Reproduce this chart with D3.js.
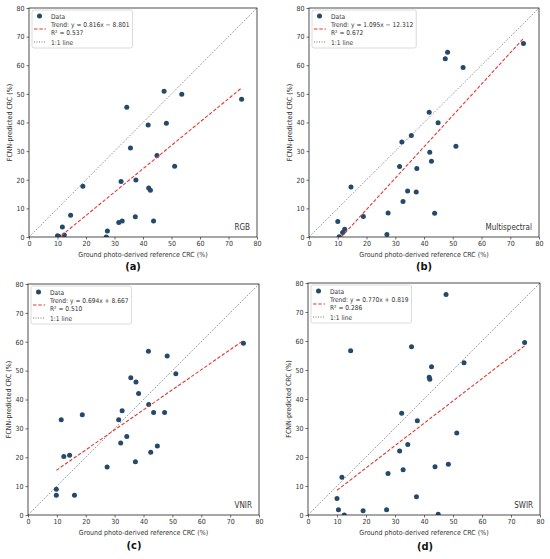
<!DOCTYPE html>
<html>
<head>
<meta charset="utf-8">
<script src="https://cdn.jsdelivr.net/npm/d3@7"></script>
<style>
  body { margin: 0; background: #fff; }
  svg { display: block; }
  text { font-family: "DejaVu Sans Condensed", "Liberation Sans", sans-serif; fill: #333; }
</style>
</head>
<body>
<svg id="chart" width="550" height="559"></svg>
<script>
// ground photo-derived reference CRC (%) and FCNN predictions per sensor
const rgbX = [10.0, 10.5, 11.7, 12.4, 14.6, 18.9, 27.1, 27.5, 31.5, 32.3, 32.7, 34.3, 35.6, 37.3, 37.5, 41.8, 42.0, 42.6, 43.7, 44.9, 47.4, 48.2, 51.1, 53.6, 74.6];
const rgbY = [0.4, 0.2, 3.5, 0.7, 7.6, 17.7, 0.0, 2.1, 5.1, 19.4, 5.6, 45.3, 31.1, 7.1, 19.9, 39.1, 17.1, 16.3, 5.6, 28.5, 50.9, 39.7, 24.7, 49.9, 48.1];

const msX = [10.0, 10.5, 11.7, 12.4, 14.6, 18.9, 27.1, 27.5, 31.5, 32.3, 32.7, 34.3, 35.6, 37.3, 37.5, 41.8, 42.0, 42.6, 43.7, 44.9, 47.4, 48.2, 51.1, 53.6, 74.6];
const msY = [5.4, 0.1, 1.6, 2.7, 17.5, 7.2, 0.9, 8.4, 24.6, 33.2, 12.4, 16.1, 35.5, 15.7, 23.9, 43.6, 29.6, 26.5, 8.3, 39.9, 62.3, 64.5, 31.7, 59.2, 67.6];

const vnirX = [9.8, 9.8, 11.5, 12.4, 14.4, 16.1, 18.8, 27.4, 31.4, 32.1, 32.6, 34.2, 35.6, 37.2, 37.4, 38.3, 41.7, 41.8, 42.5, 43.5, 44.8, 47.3, 48.2, 51.2, 74.6];
const vnirY = [8.9, 6.8, 33.0, 20.3, 20.7, 6.8, 34.7, 16.6, 33.0, 24.9, 36.1, 27.2, 47.5, 18.4, 46.1, 42.1, 56.7, 38.3, 21.7, 35.5, 23.9, 35.5, 55.1, 48.9, 59.5];

const swirX = [10.0, 10.5, 11.7, 12.5, 14.7, 19.0, 27.1, 27.6, 31.6, 32.3, 32.8, 34.4, 35.7, 37.4, 37.7, 41.8, 42.0, 42.6, 43.8, 44.9, 47.6, 48.4, 51.3, 53.8, 74.7];
const swirY = [5.7, 1.8, 13.0, 0.0, 56.6, 1.5, 1.8, 14.3, 22.1, 35.1, 15.6, 24.3, 58.0, 6.3, 32.5, 47.5, 46.8, 51.1, 16.6, 0.3, 76.0, 17.5, 28.3, 52.5, 59.5];

const panelNames = ["RGB", "Multispectral", "VNIR", "SWIR"];
const captions = ["(a)", "(b)", "(c)", "(d)"];
const slopes = [0.816, 1.095, 0.694, 0.770];
const intercepts = [-8.801, -12.312, 8.667, 0.819];
const r2s = ["0.537", "0.672", "0.510", "0.286"];
const ticks = [0, 10, 20, 30, 40, 50, 60, 70, 80];

const seriesX = [rgbX, msX, vnirX, swirX];
const seriesY = [rgbY, msY, vnirY, swirY];

// plot area of each panel in page pixels
const boxes = [
  { left: 29, top: 8, w: 228, h: 229, cap: 133, capY: 270 },
  { left: 309, top: 8, w: 230, h: 229, cap: 424, capY: 270 },
  { left: 28, top: 284, w: 231, h: 231, cap: 134, capY: 549 },
  { left: 308, top: 283, w: 232, h: 232, cap: 425, capY: 550 }
];

const dotColor = "#24496b";
const trendColor = "#e03b35";
const fs = 7;

const svg = d3.select("#chart");

function fmt(v) {
  return (v < 0 ? " \u2212 " : " + ") + Math.abs(v).toFixed(3);
}

panelNames.forEach((name, p) => {
  const b = boxes[p];
  const xs = seriesX[p], ys = seriesY[p];

  const x = d3.scaleLinear().domain([0, 80]).range([0, b.w]);
  const y = d3.scaleLinear().domain([0, 80]).range([b.h, 0]);

  const g = svg.append("g").attr("transform", `translate(${b.left},${b.top})`);

  const clipId = "clip" + p;
  g.append("clipPath").attr("id", clipId)
    .append("rect").attr("width", b.w).attr("height", b.h);

  const plot = g.append("g").attr("clip-path", `url(#${clipId})`);

  // 1:1 line
  plot.append("line")
    .attr("x1", x(0)).attr("y1", y(0))
    .attr("x2", x(80)).attr("y2", y(80))
    .attr("stroke", "#555").attr("stroke-width", 0.8)
    .attr("stroke-dasharray", "1,1.5");

  // points
  plot.selectAll("circle")
    .data(xs.map((v, i) => [v, ys[i]]))
    .enter()
    .append("circle")
    .attr("cx", d => x(d[0]))
    .attr("cy", d => y(d[1]))
    .attr("r", 2.5)
    .attr("fill", dotColor);

  // trend line over data range
  const x0 = d3.min(xs), x1 = d3.max(xs);
  plot.append("line")
    .attr("x1", x(x0)).attr("y1", y(slopes[p] * x0 + intercepts[p]))
    .attr("x2", x(x1)).attr("y2", y(slopes[p] * x1 + intercepts[p]))
    .attr("stroke", trendColor).attr("stroke-width", 1.1)
    .attr("stroke-dasharray", "3.5,1.8");

  // axes
  const xAxis = g.append("g")
    .attr("transform", `translate(0,${b.h})`)
    .call(d3.axisBottom(x).tickValues(ticks).tickSize(2.5).tickPadding(2));
  const yAxis = g.append("g")
    .call(d3.axisLeft(y).tickValues(ticks).tickSize(2.5).tickPadding(2));
  [xAxis, yAxis].forEach(a => {
    a.select(".domain").remove();
    a.selectAll("line").attr("stroke", "#333").attr("stroke-width", 0.7);
    a.selectAll("text").attr("font-size", fs).style("fill", "#333")
      .attr("font-family", null);
  });

  // frame
  g.append("rect")
    .attr("width", b.w).attr("height", b.h)
    .attr("fill", "none").attr("stroke", "#222").attr("stroke-width", 0.8);

  // axis titles
  g.append("text")
    .attr("x", b.w / 2).attr("y", b.h + 20)
    .attr("text-anchor", "middle").attr("font-size", fs)
    .text("Ground photo-derived reference CRC (%)");
  g.append("text")
    .attr("transform", `translate(-17,${b.h / 2}) rotate(-90)`)
    .attr("text-anchor", "middle").attr("font-size", fs)
    .text("FCNN-predicted CRC (%)");

  // sensor label
  g.append("text")
    .attr("x", b.w - 7).attr("y", b.h - 7)
    .attr("text-anchor", "end").attr("font-size", 8)
    .text(name);

  // legend
  const trendText = "Trend: y = " + slopes[p].toFixed(3) + "x" + fmt(intercepts[p]);
  const leg = g.append("g").attr("transform", "translate(3,2)");
  const legRect = leg.append("rect")
    .attr("rx", 2).attr("fill", "#fff")
    .attr("stroke", "#ccc").attr("stroke-width", 0.7)
    .attr("height", 38);
  leg.append("circle").attr("cx", 7.5).attr("cy", 6).attr("r", 2.5).attr("fill", dotColor);
  leg.append("line").attr("x1", 2).attr("x2", 14).attr("y1", 19).attr("y2", 19)
    .attr("stroke", trendColor).attr("stroke-width", 1.1).attr("stroke-dasharray", "3.5,1.8");
  leg.append("line").attr("x1", 2).attr("x2", 14).attr("y1", 32).attr("y2", 32)
    .attr("stroke", "#555").attr("stroke-width", 0.8).attr("stroke-dasharray", "1,1.5");
  const lines = [["Data", 8.5], [trendText, 17.3], ["R\u00b2 = " + r2s[p], 24.6], ["1:1 line", 34.5]];
  let maxW = 0;
  lines.forEach(([t, yy]) => {
    const tx = leg.append("text").attr("x", 19).attr("y", yy)
      .attr("font-size", 6.6).text(t);
    maxW = Math.max(maxW, tx.node().getComputedTextLength());
  });
  legRect.attr("width", 19 + maxW + 3);

  // panel caption
  svg.append("text")
    .attr("x", b.cap).attr("y", b.capY)
    .attr("text-anchor", "middle")
    .attr("font-family", "DejaVu Serif, serif")
    .attr("font-weight", "bold").attr("font-size", 11)
    .style("fill", "#111")
    .text(captions[p]);
});
</script>
</body>
</html>
